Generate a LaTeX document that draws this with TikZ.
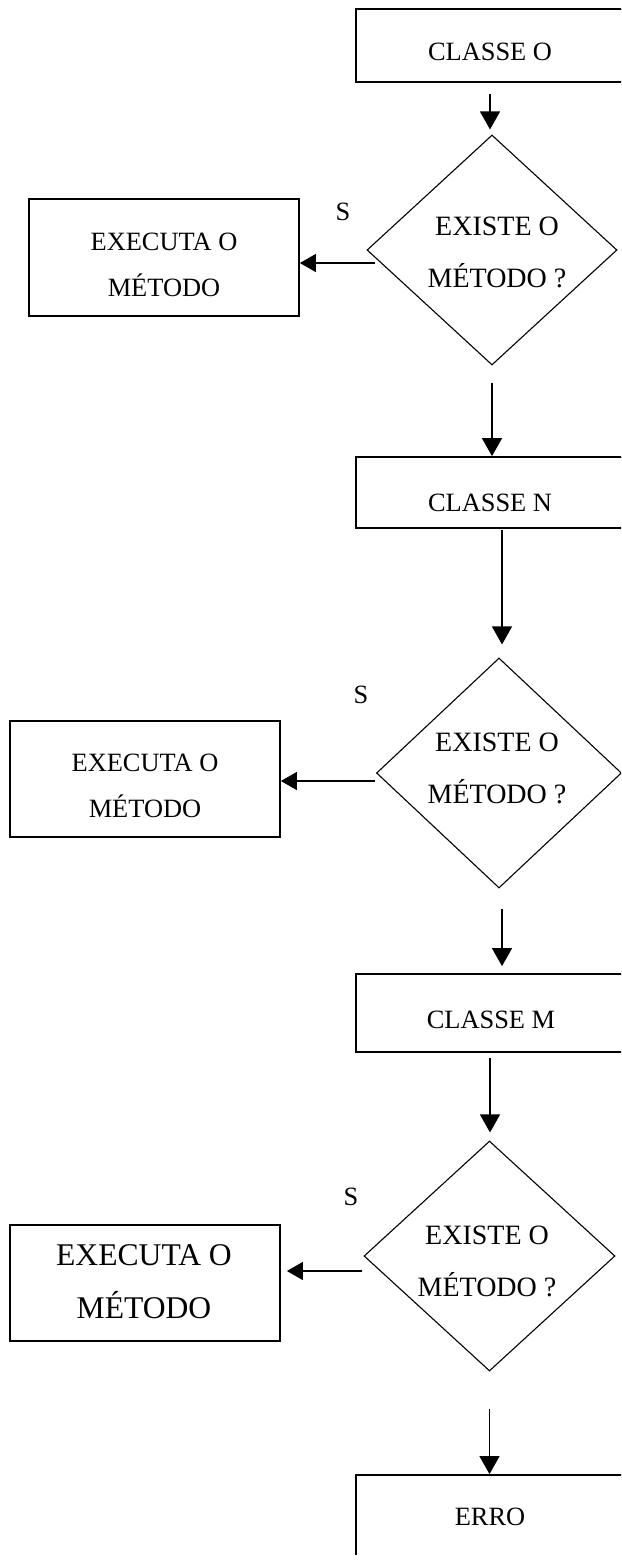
\documentclass[tikz,border=0pt]{standalone}
\usepackage{fontspec}
\setmainfont{Liberation Serif}
\usetikzlibrary{shapes.geometric,arrows.meta,calc}
\begin{document}
\begin{tikzpicture}[x=0.5pt,y=-0.5pt,
  box/.style={draw,line width=0.9pt,rectangle,inner sep=0pt},
  dia/.style={draw,line width=0.55pt,diamond,inner sep=0pt},
  txt/.style={align=center,inner sep=0pt,font=\fontsize{13.2}{23}\selectfont},
  bigtxt/.style={align=center,inner sep=0pt,font=\fontsize{15.8}{26.5}\selectfont},
  qtxt/.style={align=center,inner sep=0pt,font=\fontsize{14}{26}\selectfont},
  arr/.style={line width=0.65pt,-{Triangle[length=9pt,width=10pt]}},
  harr/.style={line width=0.65pt,-{Triangle[length=8pt,width=9pt]}},
]
\useasboundingbox (0,0) rectangle (621,1563);
\begin{scope}
\clip (0,0) rectangle (621,1554);

% class boxes on the right
\node[box,minimum width=134pt,minimum height=36.5pt] (o) at (490,45.5) {};
\node[txt] (to) at (490,52) {CLASSE O};
\node[box,minimum width=134pt,minimum height=35.5pt] (n) at (490,492.5) {};
\node[txt] (tn) at (490,503) {CLASSE N};
\node[box,minimum width=134pt,minimum height=39pt] (m) at (490,1013) {};
\node[txt] (tm) at (491,1020) {CLASSE M};
\node[box,minimum width=134pt,minimum height=62.5pt] (erro) at (490,1537.5) {};
\node[txt] (terro) at (490,1517) {ERRO};

% decisions
\node[dia,minimum width=125pt,minimum height=115pt] (d1) at (492,250) {};
\node[qtxt] (td1) at (497,252) {EXISTE O\\MÉTODO ?};
\node[dia,minimum width=122.5pt,minimum height=115pt] (d2) at (499,773) {};
\node[qtxt] (td2) at (497,768.5) {EXISTE O\\MÉTODO ?};
\node[dia,minimum width=125.5pt,minimum height=115pt] (d3) at (489.5,1256) {};
\node[qtxt] (td3) at (487,1261) {EXISTE O\\MÉTODO ?};

% actions on the left
\node[box,minimum width=135pt,minimum height=58.5pt] (e1) at (164,257.5) {};
\node[txt] (te1) at (164,265) {EXECUTA O\\MÉTODO};
\node[box,minimum width=135pt,minimum height=58pt] (e2) at (145,779) {};
\node[txt] (te2) at (145,785.5) {EXECUTA O\\MÉTODO};
\node[box,minimum width=135pt,minimum height=58pt] (e3) at (145,1283) {};
\node[bigtxt] (te3) at (144,1281.5) {EXECUTA O\\MÉTODO};

% "yes" labels
\node[txt] (s1) at (343,212) {S};
\node[txt] (s2) at (361,695) {S};
\node[txt] (s3) at (351,1197) {S};

% main flow
\draw[arr,shorten <=5.5pt,shorten >=2.5pt] (o.south) -- (o.south |- d1.north);
\draw[arr,shorten <=8.5pt] (d1.south) -- (d1.south |- n.north);
\draw[arr,shorten <=0.5pt,shorten >=6.5pt] ([xshift=6pt]n.south) coordinate (a3) -- (a3 |- d2.north);
\draw[arr,shorten <=10pt,shorten >=3.5pt] ([xshift=1.5pt]d2.south) coordinate (a4) -- (a4 |- m.north);
\draw[arr,shorten <=2.5pt,shorten >=4pt] (m.south) -- (m.south |- d3.north);
\draw[arr,shorten <=18.5pt] (d3.south) -- (d3.south |- erro.north);

% "yes" branches
\draw[harr] ([xshift=4.5pt,yshift=-6.5pt]d1.west) coordinate (b1) -- (b1 -| e1.east);
\draw[harr] ([xshift=-0.5pt,yshift=-4pt]d2.west) coordinate (b2) -- (b2 -| e2.east);
\draw[harr,shorten >=3pt] ([xshift=-0.5pt,yshift=-7.5pt]d3.west) coordinate (b3) -- (b3 -| e3.east);
\end{scope}
\end{tikzpicture}
\end{document}
